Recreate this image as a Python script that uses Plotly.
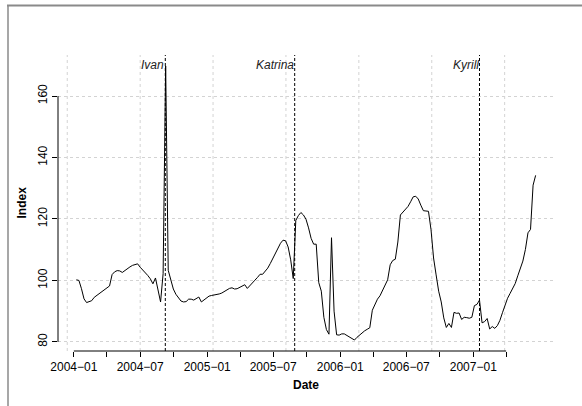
import pandas as pd
import plotly.graph_objects as go

# Weekly index series (first observation 2004-01-08)
series_start = "2004-01-08"
index_values = [
    100.2, 100.0, 97.3, 94.0, 92.8, 93.0, 93.4, 94.5, 95.1, 95.6,
    96.2, 96.7, 97.5, 98.2, 101.9, 102.8, 103.2, 103.1, 102.6, 103.3,
    103.9, 104.4, 104.9, 105.2, 105.4, 104.3, 103.4, 102.7, 101.6, 100.5,
    98.9, 100.8, 97.0, 93.0, 102.2, 169.8, 103.3, 99.8, 97.2, 95.5,
    94.2, 93.3, 93.0, 93.1, 93.9, 93.9, 93.6, 94.1, 94.6, 93.0,
    93.7, 94.3, 94.9, 95.1, 95.2, 95.4, 95.6, 95.9, 96.4, 96.9,
    97.4, 97.6, 97.2, 97.3, 97.7, 98.3, 98.6, 97.4, 98.4, 99.3,
    100.1, 101.0, 102.0, 102.0, 102.9, 104.0, 105.5, 107.2, 109.0, 110.8,
    112.1, 113.1, 112.9, 110.9, 106.7, 100.6, 119.5, 121.1, 122.1, 121.3,
    119.9, 117.1, 113.7, 111.8, 111.8, 99.3, 96.5, 88.0, 84.0, 82.5,
    113.9, 90.0, 82.3, 82.2, 82.6, 82.6, 82.1, 81.6, 81.2, 80.6,
    81.5, 82.3, 83.0, 83.6, 84.1, 84.6, 90.3, 92.2, 93.9, 95.0,
    96.8, 98.7, 100.2, 105.1, 106.5, 106.9, 112.5, 121.3, 122.3, 123.0,
    124.1, 125.6, 127.2, 127.4, 126.5, 124.5, 122.7, 122.6, 122.5, 116.5,
    107.3, 101.8, 96.5, 93.0, 87.8, 84.7, 86.0, 84.7, 89.6, 89.3,
    89.4, 87.3, 88.0, 87.9, 87.7, 88.0, 91.8, 92.2, 93.6, 86.2,
    86.6, 87.6, 84.2, 85.0, 84.4, 85.3, 87.0, 89.5, 92.0, 94.2,
    95.8, 97.2, 99.0, 101.5, 104.2, 106.3, 110.1, 115.5, 116.6, 131.0,
    134.2,
]
dates = pd.date_range(series_start, periods=len(index_values), freq="7D")

# Storm events marked on the chart
event_names = ["Ivan", "Katrina", "Kyrill"]
event_dates = ["2004-09-08", "2005-08-29", "2007-01-18"]
event_label_level = 170

# Axis ticks and grid
y_ticks = [80, 100, 120, 140, 160]
x_tick_dates = pd.date_range("2004-01-01", "2007-04-01", freq="QS")
x_tick_labels = [d.strftime("%Y\u2212%m") if d.month in (1, 7) else "" for d in x_tick_dates]
grid_dates = ["2003-12-14", "2004-07-01", "2005-01-17", "2005-08-05",
              "2006-02-21", "2006-09-09", "2007-03-28"]

# Figure geometry (pixels)
W, H = 582, 406
ML, MR, MT, MB = 58, 28, 55, 55
PW, PH = W - ML - MR, H - MT - MB


def px_x(p):
    return (p - ML) / PW


def px_y(p):
    return (H - MB - p) / PH


# R-style 4% padding of the data ranges
span = dates[-1] - dates[0]
x_range = [(dates[0] - span * 0.04).isoformat(), (dates[-1] + span * 0.04).isoformat()]
lo, hi = min(index_values), max(index_values)
y_range = [lo - 0.04 * (hi - lo), hi + 0.04 * (hi - lo)]

FONT = "Liberation Sans, Arial, Helvetica, sans-serif"

fig = go.Figure()
fig.add_trace(go.Scatter(
    x=dates, y=index_values, mode="lines",
    line=dict(color="black", width=1),
    hoverinfo="skip",
))

shapes = []
# vertical grid lines
for g in grid_dates:
    shapes.append(dict(type="line", xref="x", yref="paper", x0=g, x1=g, y0=0, y1=1,
                       line=dict(color="lightgray", width=1, dash="3px,3px"), layer="below"))
# event lines
for d in event_dates:
    shapes.append(dict(type="line", xref="x", yref="paper", x0=d, x1=d, y0=0, y1=1,
                       line=dict(color="black", width=1, dash="3px,2px")))
# axis lines spanning the tick range only
shapes.append(dict(type="line", xref="x", yref="paper",
                   x0=x_tick_dates[0].isoformat(), x1=x_tick_dates[-1].isoformat(), y0=0, y1=0,
                   line=dict(color="black", width=1)))
shapes.append(dict(type="line", xref="paper", yref="y", x0=0, x1=0,
                   y0=y_ticks[0], y1=y_ticks[-1], line=dict(color="black", width=1)))
# outer frame
shapes.append(dict(type="line", xref="paper", yref="paper", x0=px_x(7), x1=px_x(W), y0=px_y(5.5), y1=px_y(5.5),
                   line=dict(color="#8a8a8a", width=2)))
shapes.append(dict(type="line", xref="paper", yref="paper", x0=px_x(8), x1=px_x(8), y0=px_y(5.5), y1=px_y(H),
                   line=dict(color="#8a8a8a", width=1.5)))

annotations = []
for name, d in zip(event_names, event_dates):
    annotations.append(dict(x=d, y=event_label_level, xref="x", yref="y", text=f"<i>{name}</i>",
                            showarrow=False, xanchor="right", yanchor="middle", xshift=1,
                            font=dict(family=FONT, size=12, color="#222")))
annotations.append(dict(x=0.5, y=px_y(385), xref="paper", yref="paper", text="<b>Date</b>",
                        showarrow=False, xanchor="center", yanchor="middle",
                        font=dict(family=FONT, size=12, color="black")))
annotations.append(dict(x=px_x(21.5), y=0.5, xref="paper", yref="paper", text="<b>Index</b>",
                        showarrow=False, xanchor="center", yanchor="middle", textangle=-90,
                        font=dict(family=FONT, size=12, color="black")))

fig.update_layout(
    width=W, height=H,
    margin=dict(l=ML, r=MR, t=MT, b=MB),
    plot_bgcolor="white", paper_bgcolor="white",
    showlegend=False,
    font=dict(family=FONT, size=12, color="black"),
    shapes=shapes, annotations=annotations,
)
fig.update_xaxes(
    range=x_range, tickmode="array",
    tickvals=[d.isoformat() for d in x_tick_dates], ticktext=x_tick_labels,
    ticks="outside", ticklen=5, tickwidth=1, tickcolor="black",
    showgrid=False, showline=False, zeroline=False,
    tickfont=dict(family=FONT, size=12, color="black"),
)
fig.update_yaxes(
    range=y_range, tickmode="array", tickvals=y_ticks,
    ticks="outside", ticklen=5, tickwidth=1, tickcolor="black", tickangle=-90,
    showgrid=True, gridcolor="lightgray", gridwidth=1, griddash="3px,3px",
    showline=False, zeroline=False,
    tickfont=dict(family=FONT, size=12, color="black"),
)

fig.write_html("out.html")
